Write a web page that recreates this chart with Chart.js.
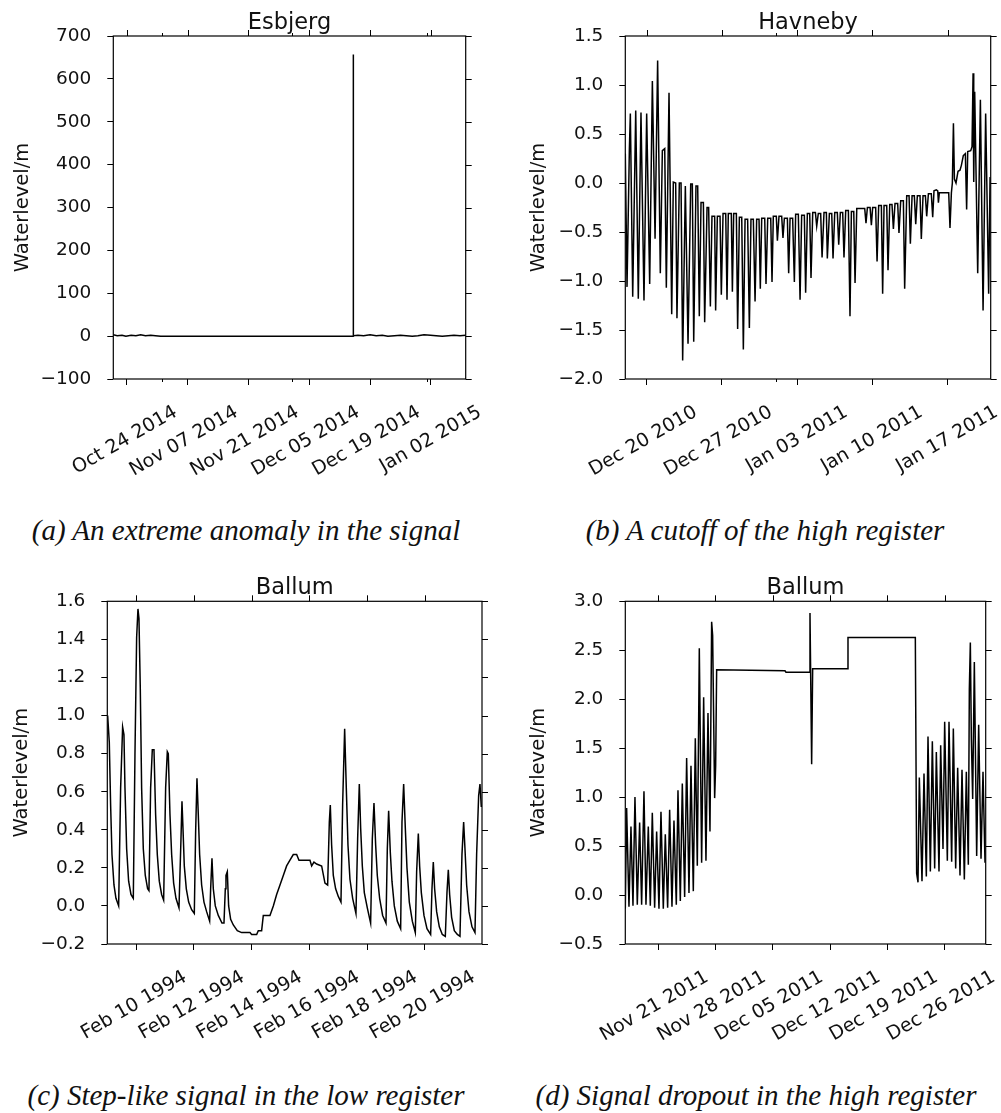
<!DOCTYPE html>
<html lang="en">
<head>
<meta charset="UTF-8">
<title>Waterlevel signal errors</title>
<script src="https://cdn.jsdelivr.net/npm/chart.js"></script>
<style>
  body { margin: 0; background: #fff; width: 1001px; height: 1113px; position: relative; overflow: hidden; }
  canvas { position: absolute; }
  .caption {
    position: absolute;
    font-family: 'Liberation Serif', 'Times New Roman', serif;
    font-style: italic;
    font-size: 29px;
    line-height: 29px;
    color: #111;
    white-space: nowrap;
    transform: translateX(-50%);
  }
</style>
</head>
<body>
<canvas id="esbjerg" width="500" height="500" style="left:0;top:0"></canvas>
<canvas id="havneby" width="501" height="500" style="left:500px;top:0"></canvas>
<canvas id="ballum94" width="500" height="500" style="left:0;top:555px"></canvas>
<canvas id="ballum11" width="501" height="500" style="left:500px;top:555px"></canvas>

<div class="caption" style="left:246px;top:516px">(a) An extreme anomaly in the signal</div>
<div class="caption" style="left:765px;top:516px">(b) A cutoff of the high register</div>
<div class="caption" style="left:246px;top:1081px">(c) Step-like signal in the low register</div>
<div class="caption" style="left:756px;top:1081px">(d) Signal dropout in the high register</div>

<script>
// (a) Esbjerg, days since 2014-10-20
const esbjergDay = [0.9, 1.8, 2.9, 3.8, 5.0, 6.1, 7.2, 8.3, 9.5, 10.6, 11.8, 12.8,
  56.10, 56.13, 56.16,
  57.2, 58.5, 60.0, 61.4, 62.8, 64.1, 65.6, 67.0, 68.3, 69.7, 71.0, 72.4, 73.9, 75.2, 76.6, 78.0, 79.3, 80.7, 82.0];
const esbjergLevel = [3, 1, 2, 0, 2, 1, 3, 1, 2, 1, 0, 0,
  0, 657, 1,
  2, 1, 3, 1, 2, 0, 1, 2, 1, 0, 1, 3, 2, 1, 0, 1, 2, 1, 2];
const esbjergTicks = ['2014-10-24', '2014-11-07', '2014-11-21', '2014-12-05', '2014-12-19', '2015-01-02'];
const esbjergMinor = ['2014-11-01', '2014-12-01', '2015-01-01'];

// (b) Havneby, days since 2010-12-18
const havnebyDay = [
  0.00, 0.16, 0.38, 0.47, 0.69, 0.97, 1.21, 1.46, 1.74, 1.99,
  2.27, 2.52, 2.77, 3.01, 3.26, 3.45, 3.67, 3.82, 4.07, 4.32,
  4.47, 4.69, 4.81, 5.03, 5.19, 5.34, 5.59, 5.84, 6.09, 6.24,
  6.37, 6.58, 6.74, 6.89, 7.05, 7.27, 7.39, 7.61, 7.76, 7.92,
  8.07, 8.32, 8.41, 8.57, 8.82, 8.94, 9.10, 9.35, 9.47, 9.59,
  9.87, 9.97, 10.09, 10.34, 10.46, 10.62, 10.84, 10.99, 11.15, 11.39,
  11.55, 11.70, 11.92, 12.08, 12.23, 12.45, 12.57, 12.70, 12.98, 13.10,
  13.26, 13.54, 13.66, 13.78, 14.06, 14.16, 14.31, 14.56, 14.68, 14.81,
  15.09, 15.21, 15.34, 15.58, 15.74, 15.86, 16.11, 16.27, 16.42, 16.67,
  16.79, 16.95, 17.17, 17.29, 17.45, 17.70, 17.82, 17.97, 18.19, 18.32,
  18.50, 18.72, 18.81, 19.00, 19.22, 19.34, 19.50, 19.74, 19.87, 20.02,
  20.24, 20.36, 20.52, 20.77, 20.92, 21.05, 21.27, 21.39, 21.55, 22.29,
  22.41, 22.54, 22.79, 22.91, 23.03, 23.31, 23.44, 23.59, 23.84, 23.96,
  24.09, 24.34, 24.46, 24.62, 24.83, 24.96, 25.11, 25.36, 25.48, 25.64,
  25.89, 26.01, 26.20, 26.42, 26.54, 26.70, 26.91, 27.04, 27.19, 27.44,
  27.56, 27.72, 27.94, 28.06, 28.22, 28.49, 28.62, 28.74, 28.96, 29.09,
  29.15, 29.24, 30.11, 30.23, 30.36, 30.45, 30.55, 30.64, 30.79, 30.98,
  31.16, 31.29, 31.47, 31.66, 31.78, 31.88, 32.16, 32.28, 32.38, 32.44,
  32.53, 32.81, 33.06, 33.31, 33.55, 33.83, 33.96];
const havnebyLevel = [
  0.30, -1.06, 0.35, 0.71, -1.16, 0.74, -1.18, 0.72, -1.20, 0.71,
  -1.03, 1.04, -0.57, 1.25, -0.92, 0.33, 0.35, -1.07, 0.92, -1.34,
  0.01, 0.00, -1.38, 0.00, 0.00, -1.81, -0.03, -1.64, -0.01, -0.01,
  -1.62, -0.03, -0.03, -1.36, -0.20, -0.20, -1.42, -0.25, -0.25, -1.26,
  -0.34, -0.34, -1.30, -0.34, -0.34, -1.14, -0.31, -0.31, -1.19, -0.31,
  -0.31, -1.11, -0.31, -0.31, -1.49, -0.35, -0.35, -1.70, -0.37, -0.37,
  -1.48, -0.37, -0.37, -1.21, -0.37, -0.37, -1.08, -0.36, -0.36, -1.03,
  -0.36, -0.36, -1.01, -0.34, -0.34, -0.59, -0.34, -0.34, -0.56, -0.36,
  -0.36, -0.92, -0.36, -0.36, -1.01, -0.32, -0.32, -1.19, -0.33, -0.33,
  -1.12, -0.31, -0.31, -0.97, -0.30, -0.30, -0.44, -0.31, -0.31, -0.76,
  -0.30, -0.30, -0.77, -0.31, -0.31, -0.77, -0.30, -0.30, -0.63, -0.30,
  -0.30, -0.76, -0.28, -0.28, -1.36, -0.29, -0.29, -1.02, -0.26, -0.26,
  -0.41, -0.25, -0.25, -0.43, -0.25, -0.25, -0.80, -0.23, -0.23, -1.13,
  -0.23, -0.23, -0.89, -0.22, -0.22, -0.47, -0.21, -0.21, -0.51, -0.18,
  -0.18, -1.08, -0.13, -0.13, -0.62, -0.13, -0.13, -0.42, -0.13, -0.13,
  -0.57, -0.13, -0.13, -0.34, -0.11, -0.11, -0.35, -0.08, -0.07, -0.08,
  -0.20, -0.10, -0.10, -0.46, -0.10, 0.00, 0.61, 0.04, 0.00, 0.12,
  0.13, 0.18, 0.28, 0.30, -0.27, 0.32, 0.33, 0.37, 1.12, 0.01,
  0.93, -0.92, 0.85, -1.30, 0.71, -1.13, 0.06];
const havnebyTicks = ['2010-12-20', '2010-12-27', '2011-01-03', '2011-01-10', '2011-01-17'];
const havnebyMinor = ['2011-01-01'];

// (c) Ballum 1994, days since 1994-02-09
const ballum94Day = [
  0.012, 0.069, 0.115, 0.162, 0.231, 0.300, 0.393, 0.462, 0.531, 0.577,
  0.612, 0.670, 0.739, 0.820, 0.901, 0.958, 1.016, 1.062, 1.097, 1.143,
  1.189, 1.247, 1.316, 1.397, 1.443, 1.501, 1.559, 1.617, 1.674, 1.732,
  1.801, 1.882, 1.952, 2.021, 2.079, 2.113, 2.171, 2.229, 2.298, 2.379,
  2.483, 2.552, 2.587, 2.621, 2.667, 2.737, 2.818, 2.921, 3.014, 3.060,
  3.106, 3.152, 3.199, 3.268, 3.349, 3.441, 3.545, 3.580, 3.626, 3.672,
  3.741, 3.845, 3.972, 4.042, 4.088, 4.111, 4.157, 4.203, 4.273, 4.365,
  4.503, 4.654, 4.942, 5.000, 5.173, 5.231, 5.346, 5.404, 5.635, 5.751,
  5.866, 5.982, 6.097, 6.212, 6.328, 6.443, 6.559, 6.640, 7.021, 7.079,
  7.159, 7.252, 7.425, 7.540, 7.633, 7.691, 7.725, 7.771, 7.829, 7.910,
  8.002, 8.095, 8.152, 8.222, 8.279, 8.337, 8.406, 8.499, 8.614, 8.672,
  8.730, 8.776, 8.834, 8.903, 9.007, 9.122, 9.180, 9.238, 9.296, 9.353,
  9.434, 9.538, 9.654, 9.700, 9.746, 9.804, 9.861, 9.942, 10.046, 10.162,
  10.208, 10.266, 10.323, 10.381, 10.462, 10.566, 10.670, 10.716, 10.774, 10.820,
  10.878, 10.970, 11.074, 11.201, 11.247, 11.293, 11.339, 11.409, 11.501, 11.605,
  11.709, 11.767, 11.813, 11.859, 11.928, 12.021, 12.125, 12.217, 12.286, 12.344,
  12.390, 12.448, 12.529, 12.633, 12.737, 12.794, 12.864, 12.910, 12.956];
const ballum94Level = [
  1.00, 0.86, 0.53, 0.27, 0.11, 0.04, 0.00, 0.62, 0.94, 0.90,
  0.62, 0.30, 0.13, 0.06, 0.04, 0.79, 1.41, 1.56, 1.51, 1.14,
  0.62, 0.30, 0.16, 0.09, 0.08, 0.62, 0.82, 0.82, 0.48, 0.27,
  0.13, 0.06, 0.03, 0.62, 0.81, 0.80, 0.48, 0.27, 0.12, 0.04,
  -0.01, 0.35, 0.55, 0.41, 0.21, 0.09, 0.02, -0.02, -0.04, 0.39,
  0.67, 0.48, 0.27, 0.11, 0.02, -0.03, -0.08, 0.09, 0.25, 0.09,
  0.00, -0.05, -0.09, -0.09, 0.09, 0.16, 0.18, 0.00, -0.07, -0.10,
  -0.13, -0.14, -0.14, -0.15, -0.15, -0.13, -0.13, -0.05, -0.05, 0.00,
  0.06, 0.11, 0.16, 0.21, 0.24, 0.27, 0.27, 0.24, 0.24, 0.21,
  0.23, 0.22, 0.21, 0.12, 0.11, 0.44, 0.53, 0.32, 0.16, 0.09,
  0.05, 0.02, 0.53, 0.93, 0.62, 0.32, 0.14, 0.04, -0.04, 0.35,
  0.64, 0.41, 0.21, 0.07, -0.01, -0.09, 0.35, 0.54, 0.32, 0.16,
  0.04, -0.05, -0.09, 0.30, 0.50, 0.28, 0.13, 0.00, -0.08, -0.12,
  0.44, 0.64, 0.41, 0.20, 0.02, -0.08, -0.14, 0.18, 0.38, 0.21,
  0.07, -0.05, -0.12, -0.15, 0.09, 0.23, 0.09, -0.03, -0.11, -0.15,
  -0.16, 0.07, 0.19, 0.06, -0.06, -0.13, -0.15, -0.16, 0.27, 0.44,
  0.30, 0.11, -0.03, -0.11, -0.14, 0.27, 0.58, 0.64, 0.52];
const ballum94Ticks = ['1994-02-10', '1994-02-12', '1994-02-14', '1994-02-16', '1994-02-18', '1994-02-20'];

// (d) Ballum 2011, days since 2011-11-17
const ballum11Day = [
  0.000, 0.163, 0.448, 0.692, 0.936, 1.180, 1.465, 1.750, 1.994, 2.279,
  2.523, 2.808, 3.053, 3.297, 3.582, 3.826, 4.111, 4.355, 4.640, 4.884,
  5.169, 5.413, 5.698, 5.942, 6.227, 6.431, 6.716, 6.960, 7.245, 7.489,
  7.774, 8.018, 8.303, 8.547, 8.791, 9.035, 9.320, 9.565, 9.849, 10.094,
  10.338, 10.541, 10.663, 10.908, 11.030, 11.152, 19.495, 19.617, 22.467, 22.548,
  22.751, 22.874, 27.106, 27.188, 35.409, 35.570, 35.735, 35.897, 36.223, 36.467,
  36.752, 36.956, 37.241, 37.485, 37.770, 37.973, 38.299, 38.502, 38.787, 38.991,
  39.316, 39.520, 39.845, 40.049, 40.334, 40.578, 40.863, 41.107, 41.392, 41.636,
  41.880, 42.002, 42.125, 42.247, 42.410, 42.613, 42.898, 43.142, 43.427, 43.671,
  43.915];
const ballum11Level = [
  -0.14, 0.89, -0.12, 0.70, -0.11, 1.00, -0.10, 0.74, -0.10, 1.06,
  -0.10, 0.70, -0.11, 0.84, -0.13, 0.65, -0.14, 0.85, -0.14, 0.62,
  -0.13, 0.87, -0.12, 0.76, -0.10, 1.07, -0.06, 1.14, -0.02, 1.40,
  0.02, 1.32, 0.04, 1.60, 0.30, 2.52, 0.33, 2.02, 0.35, 1.86,
  0.65, 2.79, 2.65, 0.99, 1.32, 2.30, 2.29, 2.275, 2.275, 2.88,
  1.335, 2.31, 2.31, 2.63, 2.63, 0.22, 0.13, 1.20, 0.14, 1.24,
  0.19, 1.62, 0.24, 1.57, 0.27, 1.46, 0.24, 1.53, 0.47, 1.77,
  0.35, 1.77, 0.34, 1.70, 0.27, 1.30, 0.20, 1.28, 0.16, 1.26,
  0.31, 2.10, 2.58, 1.60, 0.98, 2.38, 0.40, 1.74, 0.37, 1.26,
  0.33];
const ballum11Ticks = ['2011-11-21', '2011-11-28', '2011-12-05', '2011-12-12', '2011-12-19', '2011-12-26'];

const MONTHS = ['Jan', 'Feb', 'Mar', 'Apr', 'May', 'Jun', 'Jul', 'Aug', 'Sep', 'Oct', 'Nov', 'Dec'];
const DAY_MS = 86400000;

Chart.defaults.font.family = "'DejaVu Sans', sans-serif";
Chart.defaults.color = '#111';

function dayOffset(base, iso) {
  return (Date.parse(iso) - Date.parse(base)) / DAY_MS;
}

function dateLabel(iso) {
  const [y, m, d] = iso.split('-');
  return MONTHS[+m - 1] + ' ' + d + ' ' + y;
}

function levelLabel(v, dec) {
  if (Math.abs(v) < 1e-9) v = 0;
  return (v < 0 ? '\u2212' : '') + Math.abs(v).toFixed(dec);
}

// matplotlib-style box: frame, ticks on all four sides, minor month ticks, title
function framePlugin(title, minors) {
  return {
    id: 'panelFrame',
    afterDraw(chart) {
      const { ctx, chartArea: a, scales: { x, y } } = chart;
      ctx.save();
      ctx.strokeStyle = '#000';
      ctx.lineWidth = 1;
      ctx.beginPath();
      x.ticks.forEach(t => {
        const px = Math.round(x.getPixelForValue(t.value)) + 0.5;
        ctx.moveTo(px, a.top);
        ctx.lineTo(px, a.top - 6);
      });
      y.ticks.forEach(t => {
        const py = Math.round(y.getPixelForValue(t.value)) + 0.5;
        ctx.moveTo(a.right, py);
        ctx.lineTo(a.right + 6, py);
      });
      minors.forEach(v => {
        const px = Math.round(x.getPixelForValue(v)) + 0.5;
        ctx.moveTo(px, a.top);
        ctx.lineTo(px, a.top - 3);
        ctx.moveTo(px, a.bottom);
        ctx.lineTo(px, a.bottom + 3);
      });
      ctx.stroke();

      ctx.lineWidth = 1.2;
      ctx.strokeRect(a.left, a.top, a.right - a.left, a.bottom - a.top);

      ctx.fillStyle = '#111';
      ctx.font = "22.5px 'DejaVu Sans', sans-serif";
      ctx.textAlign = 'center';
      ctx.textBaseline = 'alphabetic';
      ctx.fillText(title, (a.left + a.right) / 2, a.top - 7.5);
      ctx.restore();
    }
  };
}

function drawPanel(id, p) {
  const majors = p.ticks.map(t => dayOffset(p.base, t));
  const minors = (p.minor || []).map(t => dayOffset(p.base, t));
  const tickGrid = { drawOnChartArea: false, tickLength: 6, tickColor: '#000', tickWidth: 1 };

  new Chart(document.getElementById(id), {
    type: 'line',
    data: {
      datasets: [{
        data: p.days.map((d, i) => ({ x: d, y: p.levels[i] })),
        borderColor: '#000',
        borderWidth: 1.5,
        pointRadius: 0,
        tension: 0,
        fill: false
      }]
    },
    options: {
      responsive: false,
      animation: false,
      events: [],
      layout: { padding: { left: 0, top: p.area.top, right: p.area.right, bottom: 0 } },
      plugins: { legend: { display: false }, tooltip: { enabled: false } },
      scales: {
        x: {
          type: 'linear',
          min: p.xMin,
          max: p.xMax,
          afterBuildTicks: s => { s.ticks = majors.map(v => ({ value: v })); },
          afterFit: s => { s.height = p.area.xHeight; },
          grid: tickGrid,
          border: { display: false },
          ticks: {
            autoSkip: false,
            minRotation: 30,
            maxRotation: 30,
            padding: 16,
            labelOffset: 49,
            font: { size: 19 },
            callback: (v, i) => dateLabel(p.ticks[i])
          }
        },
        y: {
          min: p.yMin,
          max: p.yMax,
          afterFit: s => { s.width = p.area.left; },
          grid: tickGrid,
          border: { display: false },
          ticks: {
            stepSize: p.yStep,
            padding: 16,
            font: { size: 18.5 },
            callback: v => levelLabel(v, p.yDec)
          },
          title: {
            display: true,
            text: 'Waterlevel/m',
            font: { size: 19.5 },
            padding: { top: p.area.labelPad, bottom: 0 }
          }
        }
      }
    },
    plugins: [framePlugin(p.title, minors)]
  });
}

drawPanel('esbjerg', {
  title: 'Esbjerg', base: '2014-10-20',
  days: esbjergDay, levels: esbjergLevel, ticks: esbjergTicks, minor: esbjergMinor,
  xMin: 0.9, xMax: 82.0, yMin: -100, yMax: 700, yStep: 100, yDec: 0,
  area: { left: 113.3, top: 36, right: 34.3, xHeight: 121, labelPad: 11.5 }
});

drawPanel('havneby', {
  title: 'Havneby', base: '2010-12-18',
  days: havnebyDay, levels: havnebyLevel, ticks: havnebyTicks, minor: havnebyMinor,
  xMin: 0, xMax: 34.02, yMin: -2, yMax: 1.5, yStep: 0.5, yDec: 1,
  area: { left: 125.3, top: 36, right: 10.3, xHeight: 121, labelPad: 27.3 }
});

drawPanel('ballum94', {
  title: 'Ballum', base: '1994-02-09',
  days: ballum94Day, levels: ballum94Level, ticks: ballum94Ticks,
  xMin: 0, xMax: 12.98, yMin: -0.2, yMax: 1.6, yStep: 0.2, yDec: 1,
  area: { left: 107.3, top: 46.3, right: 18, xHeight: 111, labelPad: 9.8 }
});

drawPanel('ballum11', {
  title: 'Ballum', base: '2011-11-17',
  days: ballum11Day, levels: ballum11Level, ticks: ballum11Ticks,
  xMin: 0, xMax: 44.0, yMin: -0.5, yMax: 3.0, yStep: 0.5, yDec: 1,
  area: { left: 125.3, top: 46.3, right: 15.3, xHeight: 111, labelPad: 27.3 }
});
</script>
</body>
</html>
